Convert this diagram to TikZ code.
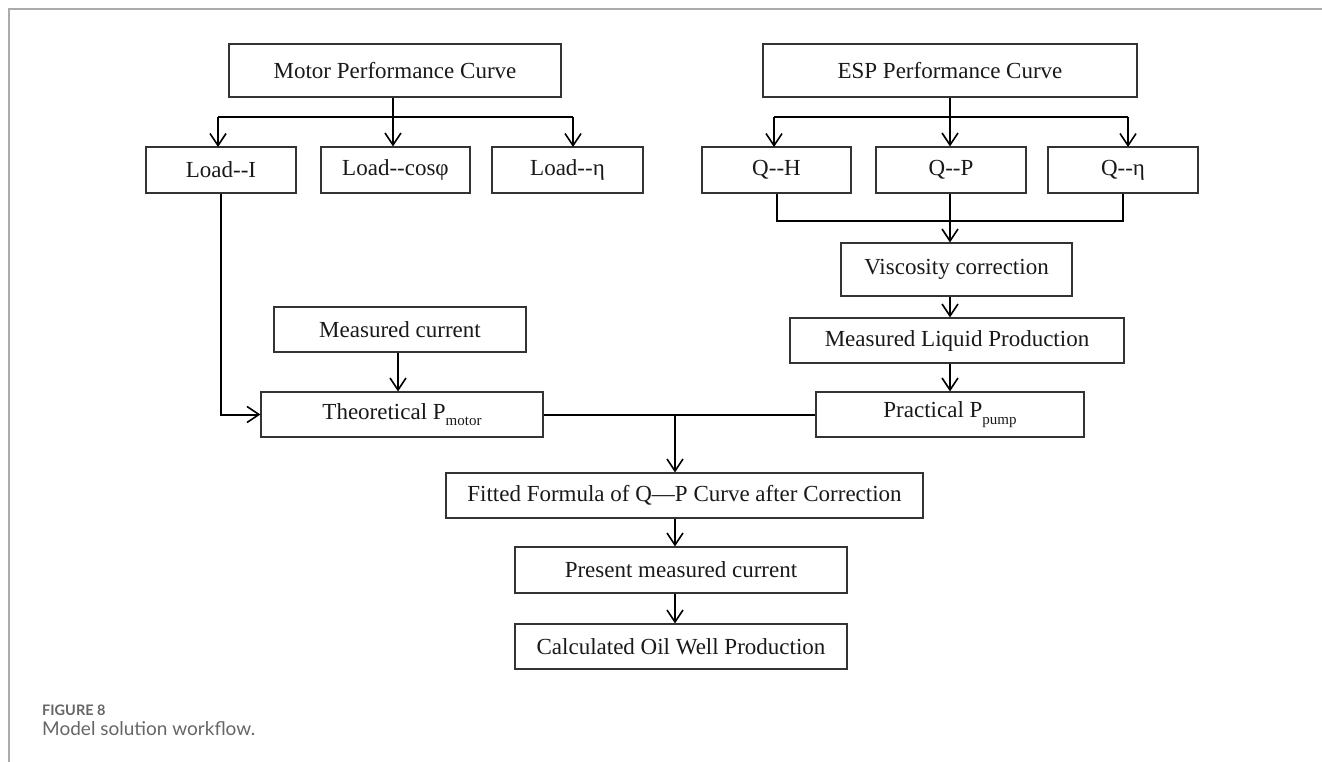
\documentclass[tikz,border=0pt]{standalone}
\usepackage{fontspec}
\setmainfont{Liberation Serif}
\newfontfamily\capfont{Lato}
\usetikzlibrary{arrows.meta}
\newcommand{\mysub}[1]{\raisebox{-0.28em}{\fontsize{15}{15}\selectfont #1}}
\begin{document}
\begin{tikzpicture}[x=1pt,y=-1pt,
  box/.style={draw=black!80, line width=1.2pt, inner sep=0pt, font=\fontsize{23}{26}\selectfont, text=black!90},
  conn/.style={line width=2pt, draw=black},
  arr/.style={conn, -{Straight Barb[length=12pt,width=16pt,line width=1.6pt]}},
  frame/.style={draw=black!33, line width=1.2pt}]
\useasboundingbox (0,0) rectangle (1322,762);
\draw[frame] (9,762) -- (9,9) -- (1322,9);

% boxes
\node[box, minimum width=332pt, minimum height=53pt] (motor) at (395,70.5) {Motor Performance Curve};
\node[box, minimum width=374pt, minimum height=53pt] (esp) at (950,70.5) {ESP Performance Curve};
\node[box, minimum width=150pt, minimum height=46pt] (loadI) at (221,170) {Load-{}-I};
\node[box, minimum width=149pt, minimum height=46pt] (loadcos) at (395.5,170) {Load-{}-cosφ};
\node[box, minimum width=151pt, minimum height=46pt] (loadeta) at (567.5,170) {Load-{}-η};
\node[box, minimum width=149pt, minimum height=46pt] (qh) at (776.5,170) {Q-{}-H};
\node[box, minimum width=150pt, minimum height=46pt] (qp) at (951,170) {Q-{}-P};
\node[box, minimum width=150pt, minimum height=46pt] (qeta) at (1123,170) {Q-{}-η};
\node[box, minimum width=231pt, minimum height=53pt] (visc) at (956.5,269.5) {Viscosity correction};
\node[box, minimum width=334pt, minimum height=45pt] (mlp) at (957,340.5) {Measured Liquid Production};
\node[box, minimum width=268pt, minimum height=45pt] (prac) at (950,414.5) {Practical P\mysub{pump}};
\node[box, minimum width=252pt, minimum height=45pt] (mcur) at (400,329.5) {Measured current};
\node[box, minimum width=282pt, minimum height=45pt] (theo) at (402,414.5) {Theoretical P\mysub{motor}};
\node[box, minimum width=477pt, minimum height=45pt] (fitted) at (684.5,495.5) {Fitted Formula of Q\textemdash P Curve after Correction};
\node[box, minimum width=332pt, minimum height=46pt] (present) at (681,570) {Present measured current};
\node[box, minimum width=332pt, minimum height=45pt] (calc) at (681,646.5) {Calculated Oil Well Production};

% motor branch
\coordinate (mb) at (393,117);
\draw[conn] (mb |- motor.south) -- (mb);
\draw[conn] (218,117) -- (573,117);
\draw[arr] (218,117) -- (218,147);
\draw[arr] (mb) -- (mb |- loadcos.north);
\draw[arr] (573,117) -- (573,147);

% esp branch
\coordinate (eb) at (950,117);
\draw[conn] (eb |- esp.south) -- (eb);
\draw[conn] (774,117) -- (1128,117);
\draw[arr] (774,117) -- (774,147);
\draw[arr] (eb) -- (eb |- qp.north);
\draw[arr] (1128,117) -- (1128,147);

% merge Q boxes
\coordinate (qb) at (950,221);
\draw[conn] (qh.south) -- (qh.south |- qb) -- (qeta.south |- qb) -- (qeta.south);
\draw[conn] (qb |- qp.south) -- (qb);
\draw[arr] (qb) -- (qb |- visc.north);
\draw[arr] (qb |- visc.south) -- (qb |- mlp.north);
\draw[arr] (qb |- mlp.south) -- (qb |- prac.north);

% motor side
\draw[arr] (loadI.south) |- (theo.west);
\draw[arr] (mcur.south -| 398,0) -- (theo.north -| 398,0);

% join
\coordinate (j) at (675,415);
\draw[conn] (theo.east) -- (prac.west);
\draw[arr] (j) -- (j |- fitted.north);
\draw[arr] (j |- fitted.south) -- (j |- present.north);
\draw[arr] (j |- present.south) -- (j |- calc.north);

% caption
\node[anchor=base west, inner sep=0pt, text=black!60] (fig) at (42,715) {\capfont\fontsize{14.5}{16}\selectfont\bfseries FIGURE 8};
\node[anchor=base west, inner sep=0pt, text=black!60] (cap) at (42,735.5) {\capfont\fontsize{19}{21}\selectfont Model solution workflow.};
\end{tikzpicture}
\end{document}
